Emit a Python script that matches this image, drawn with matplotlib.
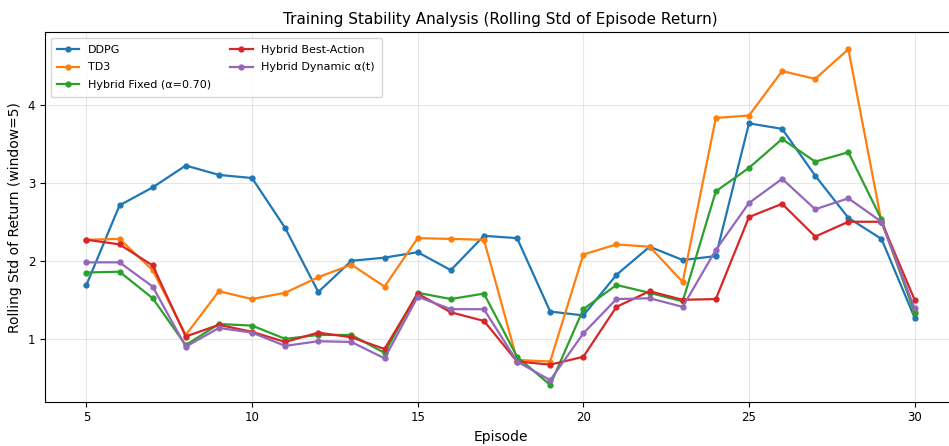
import numpy as np
import matplotlib
matplotlib.use("Agg")
import matplotlib.pyplot as plt

episodes = np.arange(5, 31)

ddpg = [1.69, 2.71, 2.94, 3.22, 3.10, 3.06, 2.42, 1.60, 2.00, 2.04, 2.11, 1.88, 2.32,
        2.29, 1.35, 1.30, 1.82, 2.18, 2.01, 2.06, 3.76, 3.69, 3.09, 2.55, 2.28, 1.27]
td3 = [2.27, 2.28, 1.88, 1.05, 1.61, 1.51, 1.59, 1.79, 1.95, 1.67, 2.29, 2.28, 2.27,
       0.73, 0.71, 2.08, 2.21, 2.18, 1.73, 3.83, 3.86, 4.43, 4.33, 4.71, 2.50, 1.35]
hybrid_fixed = [1.85, 1.86, 1.52, 0.92, 1.19, 1.17, 1.00, 1.05, 1.05, 0.82, 1.59, 1.51, 1.58,
                0.77, 0.41, 1.38, 1.69, 1.59, 1.48, 2.89, 3.19, 3.56, 3.27, 3.39, 2.53, 1.33]
hybrid_best = [2.27, 2.21, 1.94, 1.03, 1.18, 1.09, 0.96, 1.08, 1.02, 0.87, 1.58, 1.34, 1.23,
               0.71, 0.67, 0.77, 1.41, 1.61, 1.50, 1.51, 2.56, 2.73, 2.31, 2.50, 2.50, 1.50]
hybrid_dyn = [1.98, 1.98, 1.67, 0.90, 1.14, 1.08, 0.91, 0.97, 0.96, 0.75, 1.54, 1.38, 1.38,
              0.71, 0.47, 1.07, 1.51, 1.52, 1.41, 2.14, 2.74, 3.05, 2.66, 2.80, 2.50, 1.39]

series = [
    ("DDPG", ddpg),
    ("TD3", td3),
    ("Hybrid Fixed (α=0.70)", hybrid_fixed),
    ("Hybrid Best-Action", hybrid_best),
    ("Hybrid Dynamic α(t)", hybrid_dyn),
]

fig = plt.figure(figsize=(9.49, 4.46), dpi=100)
ax = fig.add_axes([0.0474, 0.0993, 0.960, 0.828])

for name, vals in series:
    ax.plot(episodes, vals, marker="o", markersize=3.5, linewidth=1.6, label=name)

ax.set_xlim(3.75, 31.25)
ax.set_xticks([5, 10, 15, 20, 25, 30])
ax.set_yticks([1, 2, 3, 4])
ax.tick_params(labelsize=8.5)
ax.grid(True, alpha=0.3)
ax.set_title("Training Stability Analysis (Rolling Std of Episode Return)", fontsize=11)
ax.set_xlabel("Episode", fontsize=10)
ax.set_ylabel("Rolling Std of Return (window=5)", fontsize=10)
ax.legend(loc="upper left", ncol=2, fontsize=8, labelspacing=0.7, borderpad=0.6,
          columnspacing=1.7)

fig.savefig("out.png", dpi=100)
